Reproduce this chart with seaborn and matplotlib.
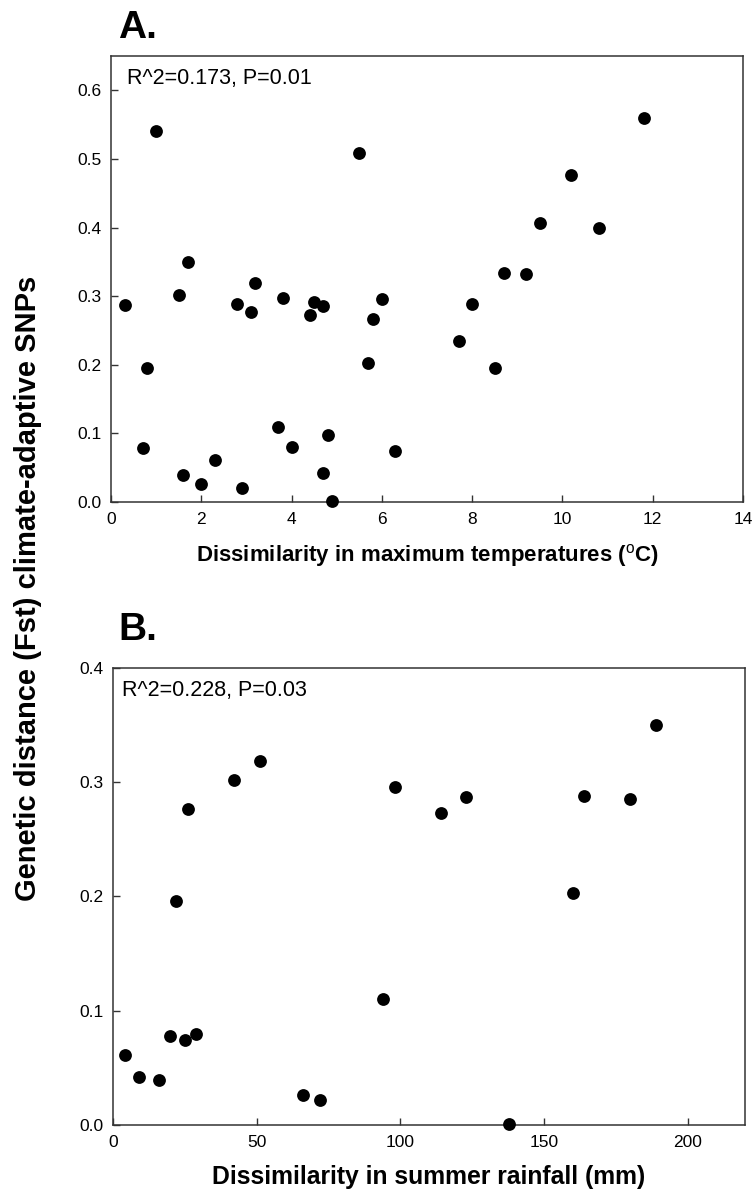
import numpy as np
import pandas as pd
import seaborn as sns
import matplotlib
matplotlib.use("Agg")
import matplotlib.pyplot as plt

# dados (painel A: temperatura máxima)
temp_diss = [0.3, 0.7, 0.8, 1.0, 1.5, 1.6, 1.7, 2.0, 2.3, 2.8, 2.9, 3.1, 3.2, 3.7,
             3.8, 4.0, 4.4, 4.5, 4.7, 4.7, 4.8, 4.9, 5.5, 5.7, 5.8, 6.0, 6.3, 7.7,
             8.0, 8.5, 8.7, 9.2, 9.5, 10.2, 10.8, 11.8]
fst_temp = [0.287, 0.078, 0.195, 0.541, 0.302, 0.039, 0.350, 0.026, 0.061, 0.289,
            0.021, 0.277, 0.319, 0.110, 0.298, 0.080, 0.273, 0.292, 0.285, 0.042,
            0.097, 0.002, 0.508, 0.203, 0.266, 0.296, 0.075, 0.234, 0.288, 0.195,
            0.334, 0.333, 0.407, 0.476, 0.400, 0.559]

# painel B: chuva de verão
rain_diss = [4, 9, 16, 20, 22, 25, 26, 29, 42, 51, 66, 72, 94, 98, 114, 123, 138,
             160, 164, 180, 189]
fst_rain = [0.061, 0.042, 0.039, 0.078, 0.196, 0.074, 0.277, 0.080, 0.302, 0.319,
            0.026, 0.022, 0.110, 0.296, 0.273, 0.287, 0.001, 0.203, 0.288, 0.285,
            0.350]

xticks_a = [0, 2, 4, 6, 8, 10, 12, 14]
yticks_a = [0.0, 0.1, 0.2, 0.3, 0.4, 0.5, 0.6]
xticks_b = [0, 50, 100, 150, 200]
yticks_b = [0.0, 0.1, 0.2, 0.3, 0.4]

sns.set_style("ticks")
plt.rcParams['font.family'] = ['Liberation Sans', 'DejaVu Sans']
plt.rcParams['mathtext.fontset'] = 'custom'
plt.rcParams['mathtext.rm'] = 'Liberation Sans'
plt.rcParams['mathtext.bf'] = 'Liberation Sans:bold'
plt.rcParams['text.color'] = 'black'
plt.rcParams['axes.labelcolor'] = 'black'

fig = plt.figure(figsize=(7.53, 11.99), dpi=100)
axA = fig.add_axes([0.1474, 0.5813, 0.8393, 0.3720])
axB = fig.add_axes([0.1501, 0.0617, 0.8393, 0.3812])

dfA = pd.DataFrame({'x': temp_diss, 'y': fst_temp})
dfB = pd.DataFrame({'x': rain_diss, 'y': fst_rain})

sns.scatterplot(data=dfA, x='x', y='y', ax=axA, color='black', s=85,
                edgecolor='black', linewidth=0, clip_on=False, zorder=3)
sns.scatterplot(data=dfB, x='x', y='y', ax=axB, color='black', s=85,
                edgecolor='black', linewidth=0, clip_on=False, zorder=3)

# eixos
for ax, xt, yt, xl, yl in [(axA, xticks_a, yticks_a, (0, 14), (0, 0.65)),
                           (axB, xticks_b, yticks_b, (0, 220), (0, 0.4))]:
  ax.set_xlim(*xl)
  ax.set_ylim(*yl)
  ax.set_xticks(xt)
  ax.set_yticks(yt)
  ax.set_xticklabels([str(v) for v in xt])
  ax.set_yticklabels(['%.1f' % v for v in yt])
  ax.tick_params(direction='in', length=5, width=1, labelsize=12.5,
                 colors='#333333', labelcolor='black', pad=7)
  for sp in ax.spines.values():
    sp.set_visible(True)
    sp.set_linewidth(1.1)
    sp.set_color('#333333')
  ax.set_ylabel('')

axA.set_xlabel(r'Dissimilarity in maximum temperatures ($^\mathrm{o}$C)',
               fontsize=16, fontweight='bold', labelpad=11)
axB.set_xlabel('Dissimilarity in summer rainfall (mm)',
               fontsize=17.8, fontweight='bold', labelpad=11)

axA.text(0.025, 0.95, 'R^2=0.173, P=0.01', transform=axA.transAxes,
         fontsize=15.5, va='center', ha='left')
axB.text(0.014, 0.95, 'R^2=0.228, P=0.03', transform=axB.transAxes,
         fontsize=15.5, va='center', ha='left')

fig.text(118/753, 1 - 28/1199, 'A.', fontsize=28, fontweight='bold',
         va='center', ha='left')
fig.text(118/753, 1 - 630/1199, 'B.', fontsize=28, fontweight='bold',
         va='center', ha='left')

fig.text(28/753, 1 - 588/1199, 'Genetic distance (Fst) climate-adaptive SNPs',
         fontsize=21, fontweight='bold', rotation=90, va='center', ha='center')

fig.savefig('out.png', dpi=100)
